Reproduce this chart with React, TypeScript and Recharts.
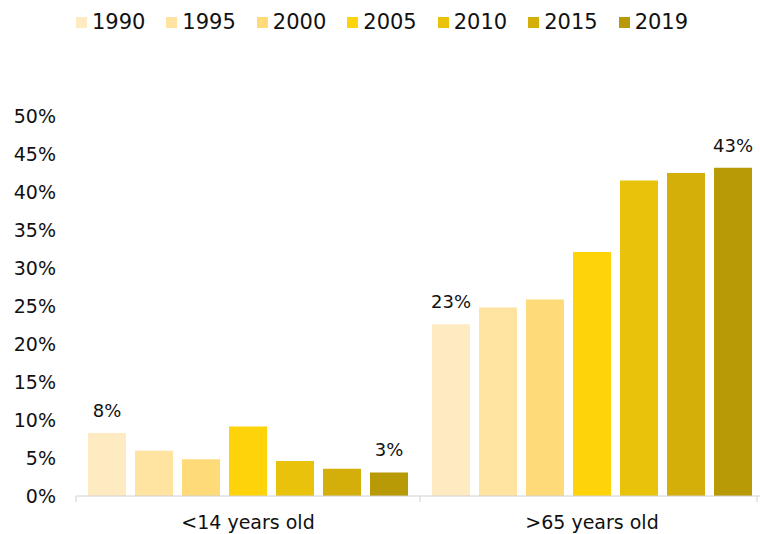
import { BarChart, Bar, XAxis, YAxis, Legend, LabelList } from "recharts";

// age groups on the x axis
const categories = ["<14 years old", ">65 years old"];
// one series per year
const years = ["1990", "1995", "2000", "2005", "2010", "2015", "2019"];
// share of population, in %
const under14 = [8.3, 5.95, 4.85, 9.15, 4.6, 3.6, 3.1];
const over65 = [22.6, 24.8, 25.85, 32.1, 41.5, 42.5, 43.2];
const yearColors = ["#FFEBC2", "#FFE3A1", "#FEDA78", "#FFD30A", "#E9C20C", "#D4AF0A", "#B89A06"];
const yTicks = [0, 5, 10, 15, 20, 25, 30, 35, 40, 45, 50];
// only the first and the last year get value labels
const labelledYears = ["1990", "2019"];

const W = 760;
const H = 534;
const MARGIN = { top: 10, right: -4, left: 0, bottom: 0 };
const Y_AXIS_WIDTH = 76;
const FONT = "'DejaVu Sans', sans-serif";

const chartData = categories.map((cat, i) => {
  const values = i === 0 ? under14 : over65;
  const row: Record<string, string | number> = { category: cat };
  years.forEach((y, j) => {
    row[y] = values[j];
  });
  return row;
});

const halfBand = (W - MARGIN.left - MARGIN.right - Y_AXIS_WIDTH) / categories.length / 2;

function CategoryTick(props: any) {
  const { x, y, payload, index } = props;
  const last = index === categories.length - 1;
  return (
    <g>
      <line x1={x - halfBand} x2={x - halfBand} y1={y} y2={y + 6} stroke="#d0d0d0" />
      {last && <line x1={W - 3} x2={W - 3} y1={y} y2={y + 6} stroke="#d0d0d0" />}
      <text x={x} y={y + 26} dy="0.35em" textAnchor="middle" fontSize={19} fill="#111" fontFamily={FONT}>
        {payload.value}
      </text>
    </g>
  );
}

function YearLegend() {
  return (
    <div
      style={{
        display: "flex",
        justifyContent: "center",
        gap: 21,
        fontFamily: FONT,
        fontSize: 21,
        lineHeight: "24px",
        color: "#111",
      }}
    >
      {years.map((y, i) => (
        <div key={y} style={{ display: "flex", alignItems: "center", gap: 5 }}>
          <span style={{ width: 11, height: 11, background: yearColors[i], display: "inline-block" }} />
          <span>{y}</span>
        </div>
      ))}
    </div>
  );
}

export default function App() {
  return (
    <div style={{ position: "absolute", left: 0, top: 0, width: W, height: H, background: "#fff", overflow: "hidden" }}>
      <BarChart width={W} height={H} data={chartData} margin={MARGIN} barCategoryGap={12} barGap={9}>
        <Legend verticalAlign="top" align="center" height={106} content={<YearLegend />} />
        <XAxis
          dataKey="category"
          axisLine={{ stroke: "#d0d0d0" }}
          tickLine={false}
          tickSize={0}
          tickMargin={0}
          height={38}
          tick={<CategoryTick />}
        />
        <YAxis
          domain={[0, 50]}
          ticks={yTicks}
          width={Y_AXIS_WIDTH}
          axisLine={false}
          tickLine={false}
          tickSize={0}
          tickMargin={20}
          tickFormatter={(v: number) => `${v}%`}
          tick={{ fontSize: 19, fill: "#111", fontFamily: FONT }}
        />
        {years.map((y, i) => (
          <Bar key={y} dataKey={y} fill={yearColors[i]} isAnimationActive={false}>
            {labelledYears.includes(y) && (
              <LabelList
                dataKey={y}
                position="top"
                offset={16}
                formatter={(v: any) => `${Math.round(Number(v))}%`}
                style={{ fontSize: 18, fill: "#111", fontFamily: FONT }}
              />
            )}
          </Bar>
        ))}
      </BarChart>
    </div>
  );
}
